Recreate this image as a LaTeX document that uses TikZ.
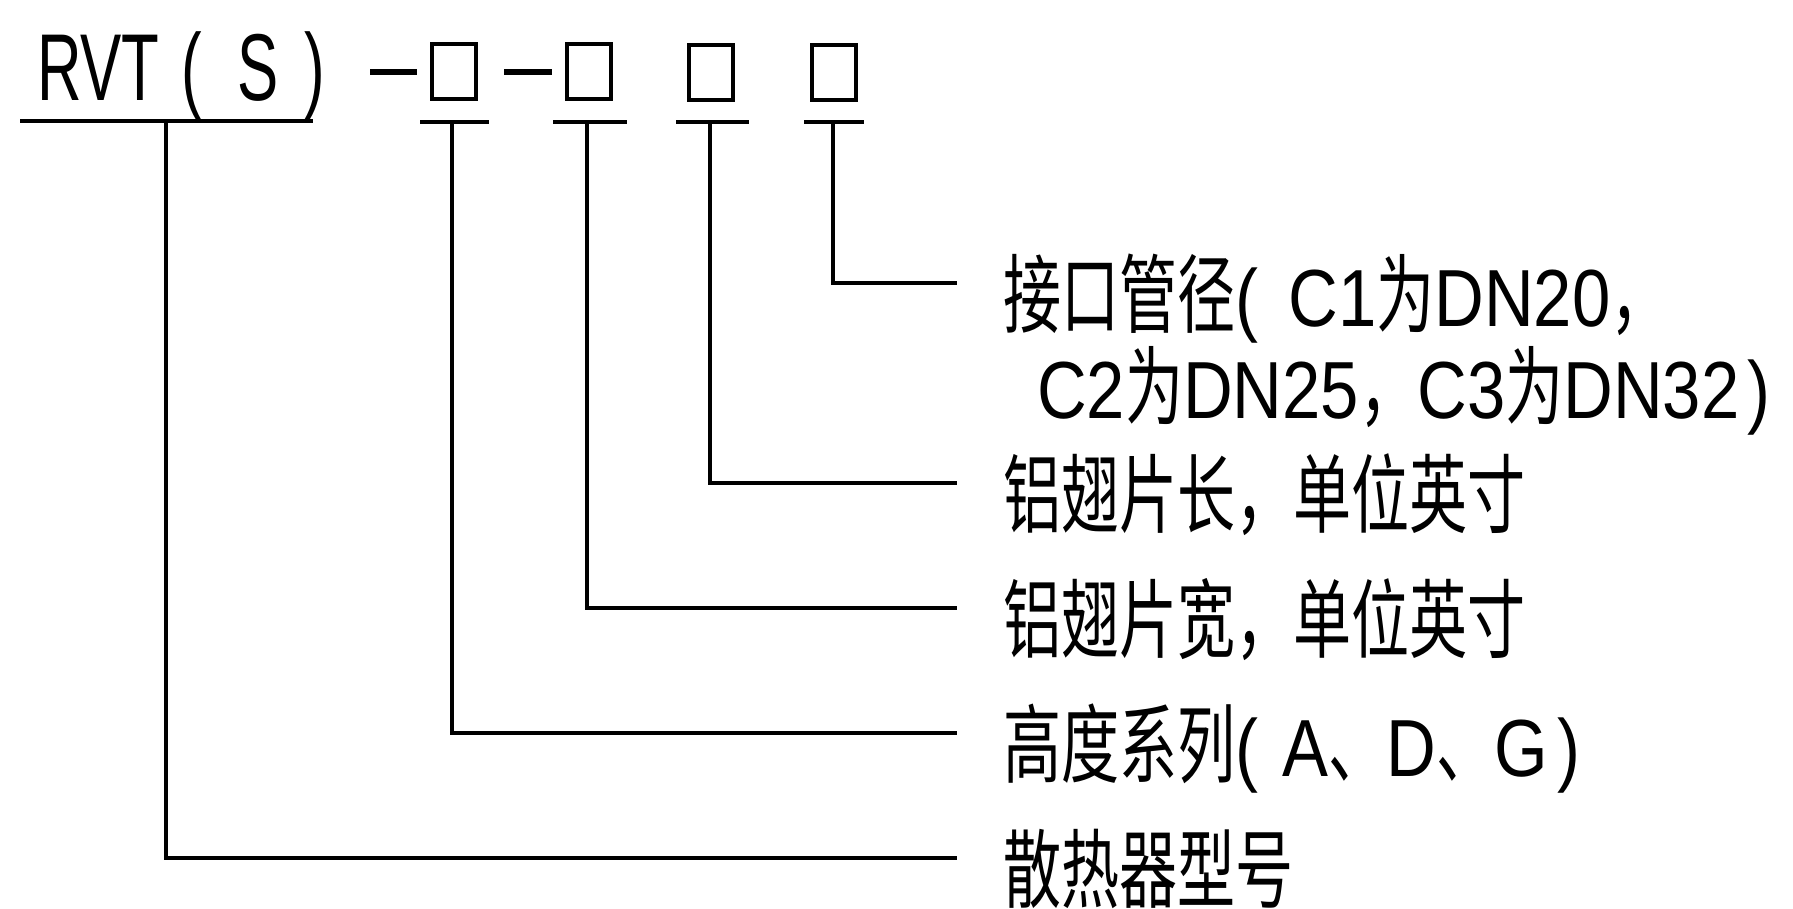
\documentclass[tikz,border=0pt]{standalone}
\usepackage{fontspec}
\newfontfamily\cjkf[FakeStretch=0.675]{Noto Sans CJK SC}
\newfontfamily\latf[FakeStretch=0.85]{Liberation Sans}
\newfontfamily\topf[FakeStretch=0.65]{Liberation Sans}
\newcommand\zhx[1]{{\fontsize{86}{90}\selectfont\cjkf #1}}
\begin{document}
\begin{tikzpicture}[x=1pt,y=-1pt,
  ln/.style={line width=4pt},
  dashline/.style={line width=6pt},
  phbox/.style={draw, line width=4pt, minimum width=44pt, minimum height=55pt, inner sep=0pt},
  lab/.style={anchor=base west, inner sep=0pt, font=\latf\fontsize{81}{90}\selectfont},
  toplab/.style={anchor=base west, inner sep=0pt, font=\topf\fontsize{95}{100}\selectfont}]
\useasboundingbox (0,0) rectangle (1793,908);

% model code
\node[toplab] (rvt) at (37,100) {RVT\hspace{22pt}(\hspace{35pt}S\hspace{26pt})};
\node[phbox] (b1) at (454,71.5) {};
\node[phbox] (b2) at (589,71.5) {};
\node[phbox] (b3) at (710.5,72) {};
\node[phbox] (b4) at (833.5,72) {};
\draw[dashline] (370,72) -- (417,72);
\draw[dashline] (504,72) -- (552,72);

% underlines
\draw[ln] (20,121) -- (313,121);
\draw[ln] (420,122) -- (489,122);
\draw[ln] (553,122) -- (627,122);
\draw[ln] (676,122) -- (749,122);
\draw[ln] (804,122) -- (864,122);

% connector start / end points
\coordinate (m0) at (166,121);
\coordinate (m1) at (452,122);
\coordinate (m2) at (587,122);
\coordinate (m3) at (710,122);
\coordinate (m4) at (833,122);
\coordinate (e0) at (957,858);
\coordinate (e1) at (957,733);
\coordinate (e2) at (957,608);
\coordinate (e3) at (957,483);
\coordinate (e4) at (957,283);

% labels
\node[lab] (t4a) at (1003,326) {\zhx{接口管径}(\hspace{30pt}C1\zhx{为}DN20\zhx{，}};
\node[lab] (t4b) at (1037,418) {C2\zhx{为}DN25\zhx{，}C3\zhx{为}DN32\hspace{8pt})};
\node[lab] (t3) at (1003,526) {\zhx{铝翅片长，单位英寸}};
\node[lab] (t2) at (1003,651) {\zhx{铝翅片宽，单位英寸}};
\node[lab] (t1) at (1003,776) {\zhx{高度系列}(\hspace{24pt}A\zhx{、}D\zhx{、}G\hspace{10pt})};
\node[lab] (t0) at (1003,901) {\zhx{散热器型号}};

% connectors
\draw[ln] (m0) |- (e0);
\draw[ln] (m1) |- (e1);
\draw[ln] (m2) |- (e2);
\draw[ln] (m3) |- (e3);
\draw[ln] (m4) |- (e4);
\end{tikzpicture}
\end{document}
